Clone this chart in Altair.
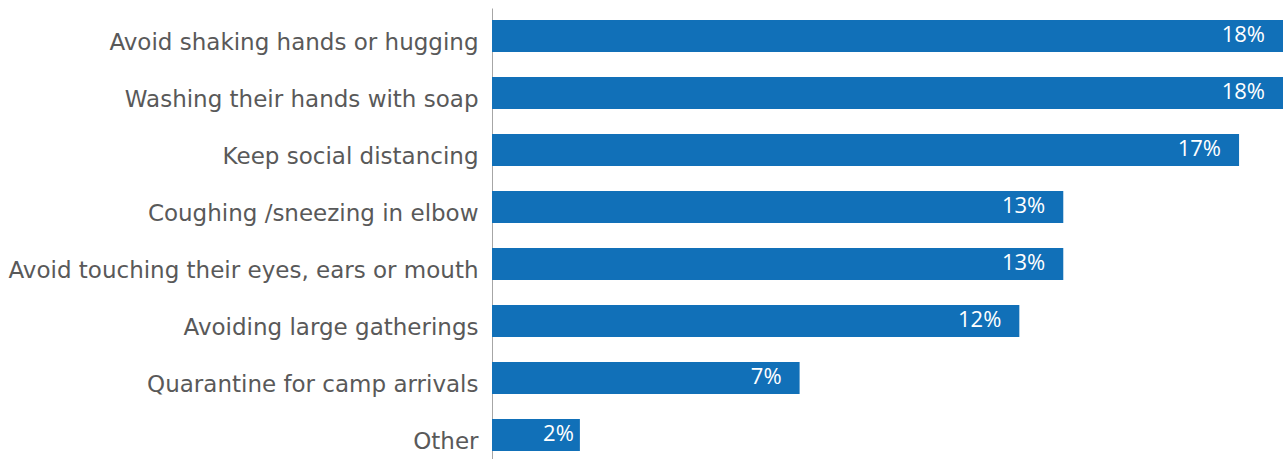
import altair as alt
import pandas as pd

categories = [
    "Avoid shaking hands or hugging",
    "Washing their hands with soap",
    "Keep social distancing",
    "Coughing /sneezing in elbow",
    "Avoid touching their eyes, ears or mouth",
    "Avoiding large gatherings ",
    "Quarantine for camp arrivals",
    "Other",
]
values = [18, 18, 17, 13, 13, 12, 7, 2]
labels = ["18%", "18%", "17%", "13%", "13%", "12%", "7%", "2%"]

df = pd.DataFrame({"category": categories, "value": values, "label": labels})

AXIS_FONT = "DejaVu Sans"
VALUE_FONT = "Open Sans"
BLUE = "#1170b8"
GRAY = "#595959"

y = alt.Y(
    "category:N",
    sort=categories,
    scale=alt.Scale(range=[0, 455], paddingInner=25 / 57, paddingOuter=12 / 57),
    axis=alt.Axis(
        title=None,
        ticks=False,
        grid=False,
        domainColor="#a6a6a6",
        domainWidth=1,
        labelFontSize=23,
        labelFont=AXIS_FONT,
        labelColor=GRAY,
        labelPadding=14,
        labelOffset=7,
        labelLimit=0,
    ),
)
x = alt.X("value:Q", scale=alt.Scale(domain=[0, 18], nice=False, zero=True), axis=None)

bars = alt.Chart(df).mark_bar(color=BLUE, cornerRadius=0).encode(x=x, y=y)
text_big = alt.Chart(df).transform_filter("datum.value >= 5").mark_text(
    align="right", baseline="middle", dx=-18, dy=-1, color="white", fontSize=22, font=VALUE_FONT
).encode(x=x, y=y, text="label:N")
text_small = alt.Chart(df).transform_filter("datum.value < 5").mark_text(
    align="right", baseline="middle", dx=-6, dy=-1, color="white", fontSize=22, font=VALUE_FONT
).encode(x=x, y=y, text="label:N")

chart = (
    alt.layer(bars, text_big, text_small)
    .properties(
        width=791,
        height=451,
        background="white",
        autosize=alt.AutoSizeParams(type="none"),
        padding={"left": 492, "top": 8, "right": 0, "bottom": 0},
    )
    .configure_view(stroke=None, strokeWidth=0)
)

chart.save("out.html", embed_options={"renderer": "svg", "actions": False})
